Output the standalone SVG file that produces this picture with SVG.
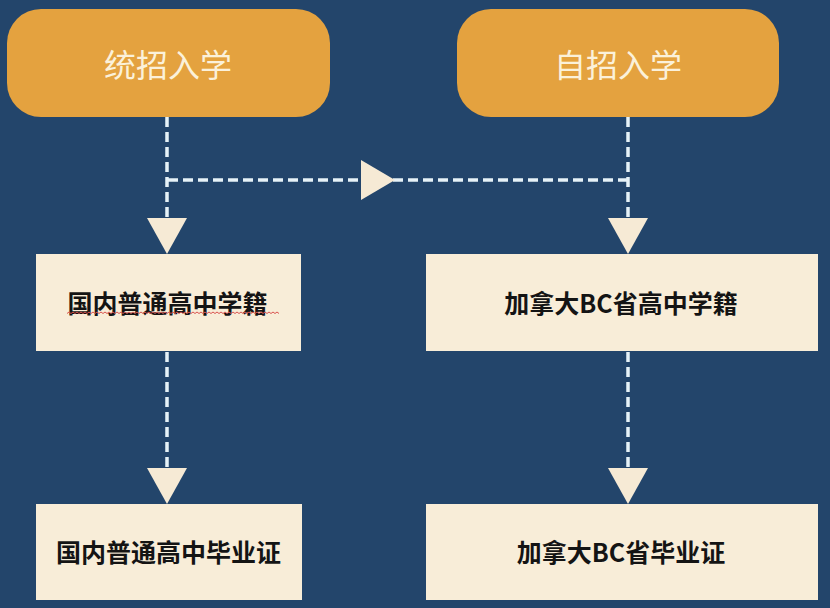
<svg xmlns="http://www.w3.org/2000/svg" width="830" height="608" viewBox="0 0 830 608">
<style>
.pill{fill:#E4A23F;}
.box{fill:#F8EDD8;}
.ptxt{font-family:"Noto Sans CJK SC","Noto Sans",sans-serif;font-size:32px;fill:#FBF1DA;text-anchor:middle;dominant-baseline:central;}
.btxt{font-family:"Noto Sans CJK SC","Noto Sans",sans-serif;font-size:25px;font-weight:bold;fill:#141414;text-anchor:middle;dominant-baseline:central;}
.dash{fill:none;stroke:#E6F2F8;stroke-width:3.5;stroke-dasharray:10 5;}
.head{fill:#F6EAD5;}
</style>
<rect width="830" height="608" fill="#23456B"/>
<g id="connectors">
  <path class="dash" d="M167 117 V220"/>
  <path class="dash" d="M628 117 V220"/>
  <path class="dash" d="M168 180 H628"/>
  <path class="dash" d="M167 352 V470"/>
  <path class="dash" d="M628 352 V470"/>
  <polygon class="head" points="147,218 187,218 167,254"/>
  <polygon class="head" points="608,218 648,218 628,254"/>
  <polygon class="head" points="361,160 395,180 361,200"/>
  <polygon class="head" points="147,468 187,468 167,504"/>
  <polygon class="head" points="608,468 648,468 628,504"/>
</g>
<g id="n1">
  <rect class="pill" x="7" y="9" width="323" height="108" rx="34"/>
  <text class="ptxt" x="168" y="63">统招入学</text>
</g>
<g id="n2">
  <rect class="pill" x="457" y="9" width="322" height="108" rx="34"/>
  <text class="ptxt" x="618" y="63">自招入学</text>
</g>
<g id="n3">
  <rect class="box" x="36" y="254" width="265" height="97"/>
  <text class="btxt" x="167.5" y="302">国内普通高中学籍</text>
  <path d="M67 313.5 l2 -1.5 l2 1.5 l2 -1.5 l2 1.5 l2 -1.5 l2 1.5 l2 -1.5 l2 1.5 l2 -1.5 l2 1.5 l2 -1.5 l2 1.5 l2 -1.5 l2 1.5 l2 -1.5 l2 1.5 l2 -1.5 l2 1.5 l2 -1.5 l2 1.5 l2 -1.5 l2 1.5 l2 -1.5 l2 1.5 l2 -1.5 l2 1.5 l2 -1.5 l2 1.5 l2 -1.5 l2 1.5 l2 -1.5 l2 1.5 l2 -1.5 l2 1.5 l2 -1.5 l2 1.5 l2 -1.5 l2 1.5 l2 -1.5 l2 1.5 l2 -1.5 l2 1.5 l2 -1.5 l2 1.5 l2 -1.5 l2 1.5 l2 -1.5 l2 1.5 l2 -1.5 l2 1.5 l2 -1.5 l2 1.5 l2 -1.5 l2 1.5 l2 -1.5 l2 1.5 l2 -1.5 l2 1.5 l2 -1.5 l2 1.5 l2 -1.5 l2 1.5 l2 -1.5 l2 1.5 l2 -1.5 l2 1.5 l2 -1.5 l2 1.5 l2 -1.5 l2 1.5 l2 -1.5 l2 1.5 l2 -1.5 l2 1.5 l2 -1.5 l2 1.5 l2 -1.5 l2 1.5 l2 -1.5 l2 1.5 l2 -1.5 l2 1.5 l2 -1.5 l2 1.5 l2 -1.5 l2 1.5 l2 -1.5 l2 1.5 l2 -1.5 l2 1.5 l2 -1.5 l2 1.5 l2 -1.5 l2 1.5 l2 -1.5 l2 1.5 l2 -1.5 l2 1.5 l2 -1.5 l2 1.5 l2 -1.5 l2 1.5 l2 -1.5 l2 1.5 l2 -1.5 l2 1.5" fill="none" stroke="#D9534F" stroke-width="1"/>
</g>
<g id="n4">
  <rect class="box" x="426" y="254" width="392" height="97"/>
  <text class="btxt" x="621" y="302">加拿大BC省高中学籍</text>
</g>
<g id="n5">
  <rect class="box" x="36" y="504" width="266" height="96"/>
  <text class="btxt" x="168.5" y="551">国内普通高中毕业证</text>
</g>
<g id="n6">
  <rect class="box" x="426" y="504" width="392" height="96"/>
  <text class="btxt" x="621" y="551">加拿大BC省毕业证</text>
</g>
</svg>
